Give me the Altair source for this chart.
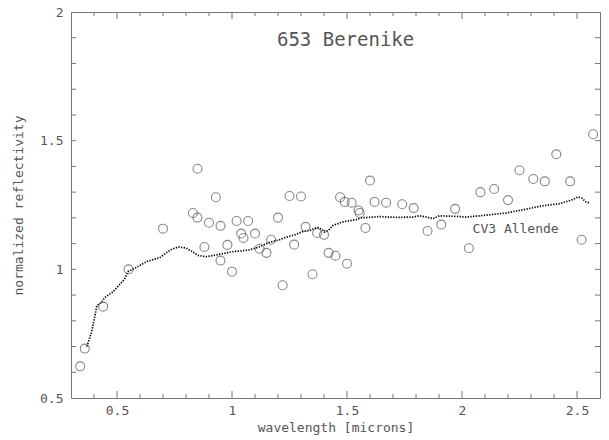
import altair as alt
import pandas as pd

# Observed asteroid reflectance (653 Berenike)
obs_wl = [0.34, 0.36, 0.44, 0.55, 0.70, 0.83, 0.85, 0.85, 0.88, 0.90, 0.93, 0.95, 0.95,
          0.98, 1.00, 1.02, 1.04, 1.05, 1.07, 1.10, 1.12, 1.15, 1.17, 1.20, 1.22, 1.25,
          1.27, 1.30, 1.32, 1.35, 1.37, 1.40, 1.42, 1.45, 1.47, 1.49, 1.50, 1.52, 1.55,
          1.555, 1.58, 1.60, 1.62, 1.67, 1.74, 1.79, 1.85, 1.91, 1.97, 2.03, 2.08, 2.14,
          2.20, 2.25, 2.31, 2.36, 2.41, 2.47, 2.52, 2.57]
obs_refl = [0.623, 0.692, 0.855, 1.00, 1.158, 1.219, 1.391, 1.201, 1.087, 1.181, 1.280, 1.169, 1.034,
            1.095, 0.991, 1.188, 1.139, 1.122, 1.188, 1.139, 1.080, 1.064, 1.115, 1.201, 0.938, 1.285,
            1.096, 1.283, 1.165, 0.981, 1.141, 1.134, 1.064, 1.053, 1.280, 1.262, 1.022, 1.259, 1.229,
            1.219, 1.161, 1.345, 1.262, 1.259, 1.253, 1.238, 1.149, 1.174, 1.235, 1.082, 1.300, 1.312,
            1.269, 1.385, 1.351, 1.342, 1.447, 1.342, 1.115, 1.525]

# CV3 Allende meteorite spectrum
lab_wl = [0.369, 0.390, 0.399, 0.413, 0.431, 0.446, 0.482, 0.533, 0.547, 0.569, 0.631, 0.685,
          0.733, 0.766, 0.800, 0.825, 0.853, 0.887, 0.938, 1.005, 1.033, 1.072, 1.112, 1.163,
          1.207, 1.236, 1.275, 1.308, 1.342, 1.359, 1.376, 1.393, 1.402, 1.418, 1.438, 1.477,
          1.497, 1.540, 1.561, 1.612, 1.641, 1.679, 1.728, 1.763, 1.786, 1.814, 1.847, 1.873,
          1.902, 1.966, 1.989, 2.016, 2.076, 2.151, 2.192, 2.219, 2.279, 2.351, 2.424, 2.471,
          2.482, 2.505, 2.522, 2.539, 2.556]
lab_refl = [0.700, 0.758, 0.797, 0.860, 0.870, 0.890, 0.912, 0.962, 0.991, 1.000, 1.031, 1.045,
            1.076, 1.087, 1.083, 1.070, 1.054, 1.049, 1.057, 1.069, 1.071, 1.075, 1.085, 1.105,
            1.115, 1.125, 1.135, 1.147, 1.152, 1.160, 1.162, 1.154, 1.145, 1.150, 1.170, 1.183,
            1.187, 1.193, 1.200, 1.203, 1.205, 1.203, 1.202, 1.203, 1.203, 1.208, 1.203, 1.197,
            1.208, 1.206, 1.205, 1.203, 1.208, 1.215, 1.219, 1.224, 1.234, 1.247, 1.255, 1.268,
            1.271, 1.282, 1.276, 1.262, 1.258]

# Tick positions
x_major = [0.5, 1.0, 1.5, 2.0, 2.5]
x_minor = [0.4, 0.6, 0.7, 0.8, 0.9, 1.1, 1.2, 1.3, 1.4, 1.6, 1.7, 1.8, 1.9,
           2.1, 2.2, 2.3, 2.4]
y_major = [0.5, 1.0, 1.5, 2.0]
y_ticks = [0.6, 0.7, 0.8, 0.9, 1.0, 1.1, 1.2, 1.3, 1.4, 1.5, 1.6, 1.7, 1.8, 1.9]

# Annotations
ann_text = ["653 Berenike", "CV3 Allende"]
ann_x = [1.494, 2.046]
ann_y = [1.893, 1.158]

W, H = 529, 386
FONT = "DejaVu Sans Mono"
TXT = "#555555"
AX = "#777777"

xs = alt.Scale(domain=[0.3, 2.6], nice=False, zero=False)
ys = alt.Scale(domain=[0.5, 2.0], nice=False, zero=False)
xax = alt.Axis(values=x_major, labelExpr="'' + datum.value", ticks=False,
               domain=False, grid=False, title="wavelength [microns]",
               labelPadding=6, titlePadding=4)
yax = alt.Axis(values=y_major, labelExpr="'' + datum.value", ticks=False,
               domain=False, grid=False, title="normalized reflectivity",
               labelPadding=8, titlePadding=14)

def X(f):
    return alt.X(f, scale=xs, axis=xax, title="wavelength [microns]")

def Y(f):
    return alt.Y(f, scale=ys, axis=yax, title="normalized reflectivity")

obs = pd.DataFrame({"wl": obs_wl, "r": obs_refl})
lab = pd.DataFrame({"wl": lab_wl, "r": lab_refl})

line = alt.Chart(lab).mark_line(
    color="black", strokeWidth=1.7, strokeDash=[1.3, 1.4]
).encode(x=X("wl:Q"), y=Y("r:Q"))

pts = alt.Chart(obs).mark_point(
    shape="circle", filled=False, size=80, stroke="#555555", strokeWidth=1.1
).encode(x=X("wl:Q"), y=Y("r:Q"))

def xticks(vals, length):
    df = pd.DataFrame({"v": vals})
    b = alt.Chart(df).mark_rule(color=AX, strokeWidth=1)
    bottom = b.encode(x=X("v:Q"), y=alt.value(H), y2=alt.value(H - length))
    top = b.encode(x=X("v:Q"), y=alt.value(0), y2=alt.value(length))
    return [bottom, top]

def yticks(vals, length):
    df = pd.DataFrame({"v": vals})
    b = alt.Chart(df).mark_rule(color=AX, strokeWidth=1)
    left = b.encode(y=Y("v:Q"), x=alt.value(0), x2=alt.value(length))
    right = b.encode(y=Y("v:Q"), x=alt.value(W), x2=alt.value(W - length))
    return [left, right]

ann = pd.DataFrame({"t": ann_text, "x": ann_x, "y": ann_y})
title_txt = alt.Chart(ann.iloc[[0]]).mark_text(
    font=FONT, fontSize=19, color=TXT, align="center", baseline="middle"
).encode(x=X("x:Q"), y=Y("y:Q"), text="t:N")
lab_txt = alt.Chart(ann.iloc[[1]]).mark_text(
    font=FONT, fontSize=13, color=TXT, align="left", baseline="middle"
).encode(x=X("x:Q"), y=Y("y:Q"), text="t:N")

layers = [line, pts] + xticks(x_major, 7) + xticks(x_minor, 4) + yticks(y_ticks, 5) + [title_txt, lab_txt]

chart = alt.layer(*layers).properties(
    width=W, height=H,
    autosize=alt.AutoSizeParams(type="none"),
    padding={"left": 71, "top": 12, "right": 9, "bottom": 42},
    background="white",
).configure_view(
    stroke=AX, strokeWidth=1
).configure_axis(
    labelFont=FONT, labelFontSize=13, labelColor=TXT,
    titleFont=FONT, titleFontSize=13, titleColor=TXT, titleFontWeight="normal",
)

chart.save("out.html", embed_options={"renderer": "svg", "actions": False})
